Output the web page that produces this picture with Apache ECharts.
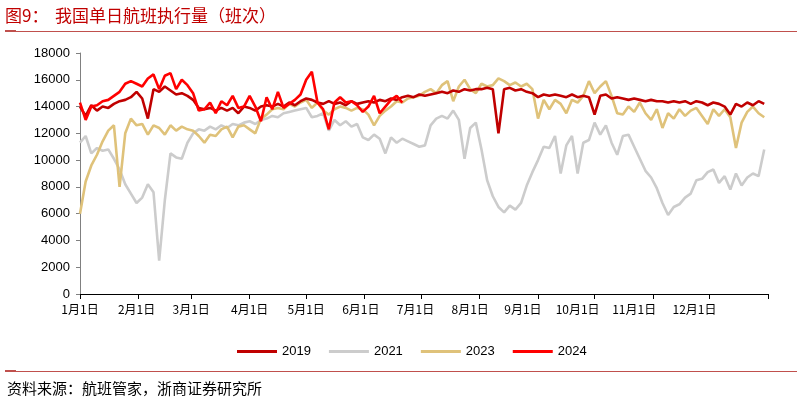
<!DOCTYPE html>
<html><head><meta charset="utf-8">
<script src="https://cdn.jsdelivr.net/npm/echarts@6/dist/echarts.min.js"></script>
<style>html,body{margin:0;padding:0;background:#fff}#c{width:802px;height:403px}</style>
</head><body><div id="c"></div>
<script>
// sampling step (days) of the value arrays below
const step = 3;
const monthStarts = [0, 31, 59, 90, 120, 151, 181, 212, 243, 273, 304, 334];
// label anchor days as placed in the source picture
const labelDays = [0, 30, 59, 90, 120, 149, 178, 207, 235, 264, 294, 326];
const monthLabels = ['1月1日','2月1日','3月1日','4月1日','5月1日','6月1日','7月1日','8月1日','9月1日','10月1日','11月1日','12月1日'];
const seriesNames = ['2019', '2021', '2023', '2024'];

const v2019 = [14000,13300,14100,13700,14000,13900,14200,14400,14500,14700,
15100,14600,13100,15300,15100,15500,15200,14900,15000,14800,
14500,13900,13800,13900,13700,13900,13700,13900,13500,14000,
13900,13700,14000,14100,14000,14200,14000,14300,14100,14400,
14600,14500,14300,14200,14400,14200,14300,14100,14400,14200,
14300,14400,14300,14500,14400,14600,14500,14700,14800,14700,
14900,14800,14900,15000,15100,15000,15200,15100,15300,15200,
15300,15300,15400,15300,12000,15300,15400,15200,15300,15100,
15000,14700,14900,14800,14900,14800,14700,14900,14700,14800,
14700,13400,14800,14900,14600,14700,14600,14500,14600,14500,
14400,14500,14400,14400,14300,14400,14300,14400,14200,14400,
14300,14100,14300,14200,14000,13400,14200,14000,14300,14100,
14400,14200];

const v2021 = [11300,11800,10500,10900,10700,10800,10100,9300,8200,7500,
6800,7200,8200,7600,2500,7000,10500,10200,10100,11300,
12000,12300,12200,12500,12300,12600,12400,12700,12600,12800,
12900,12700,13000,13100,13300,13200,13500,13600,13700,13800,
13900,13200,13300,13500,12200,13000,12600,12900,12500,12700,
11700,11500,11900,11600,10500,11700,11300,11600,11400,11200,
11000,11100,12600,13100,13300,13100,13700,13000,10100,12400,
12800,10800,8500,7300,6500,6100,6600,6300,6800,8100,
9100,10000,11000,10900,11800,9000,11100,11800,9000,11300,
11500,12800,11900,12600,11300,10400,11800,11900,11000,10100,
9200,8700,7900,6800,5900,6500,6700,7200,7500,8500,
8600,9100,9300,8300,8800,7800,9000,8100,8700,9000,
8800,10800];

const v2023 = [6000,8400,9600,10400,11400,12200,12600,8000,12000,13100,
12600,12700,11900,12600,12400,11900,12600,12200,12500,12300,
12200,11800,11300,11900,11800,12300,12500,11700,12500,12600,
12300,12000,13100,13400,13800,13900,13800,14200,14000,14300,
14500,13900,14300,13700,13400,13800,14000,13900,13700,13900,
13800,13400,12600,13300,13700,14000,14400,14300,14600,14700,
14800,15100,15300,15000,15600,15900,14400,15500,16000,15300,
15000,15700,15500,15600,16100,15900,15600,15800,15500,15700,
15300,13100,14500,13800,14500,14200,13500,14500,14300,14800,
15900,15000,15500,15900,14800,13500,13400,14000,13600,14300,
13500,13000,13800,12400,13500,13100,13800,13300,13700,13900,
13300,12700,13800,13300,13800,13200,10900,12800,13600,14000,
13500,13200];

const v2024 = [14300,13000,14000,14100,14400,14500,14800,15100,15700,15900,
15700,15500,16100,16400,15300,16300,16500,15300,16000,15600,
15000,13700,13800,14300,13500,14400,14100,14800,13900,14000,
14800,14000,12900,14700,13800,15100,13900,14200,14500,14900,
16000,16600,14300,13800,12300,14300,14700,14300,14400,14100,
13600,14000,14800,13500,14000,14500,14800,14300];

const colors = {'2019':'#c00000','2021':'#cccccc','2023':'#dfc27a','2024':'#ff0000'};
const values = {'2019':v2019,'2021':v2021,'2023':v2023,'2024':v2024};
function toPairs(arr){ return arr.map((v,i)=>[i*step, v]); }

const drawOrder = ['2021','2023','2019','2024'];
const series = drawOrder.map((n, k) => ({
  name: n, type: 'line', data: toPairs(values[n]), showSymbol: false, symbol: 'none',
  lineStyle: {color: colors[n], width: 2.6}, itemStyle: {color: colors[n]}, z: 2 + k
}));

const chart = echarts.init(document.getElementById('c'), null, {renderer: 'canvas'});
chart.setOption({
  animation: false,
  textStyle: {fontFamily: 'Liberation Sans, Arial, sans-serif'},
  grid: {left: 80, right: 34, top: 53, bottom: 109},
  xAxis: {
    type: 'value', min: 0, max: 365,
    splitLine: {show: false},
    axisLine: {lineStyle: {color: '#000', width: 1}},
    axisTick: {show: true, customValues: monthStarts.concat([365]), length: 5, inside: false, lineStyle: {color: '#000'}},
    axisLabel: {customValues: labelDays, formatter: v => monthLabels[labelDays.indexOf(v)], color: '#000', fontSize: 12, margin: 9, fontFamily: 'Noto Sans CJK SC'}
  },
  yAxis: {
    type: 'value', min: 0, max: 18000, interval: 2000,
    splitLine: {show: false},
    axisLine: {show: true, lineStyle: {color: '#808080', width: 1}},
    axisTick: {show: true, length: 4, lineStyle: {color: '#808080'}},
    axisLabel: {color: '#000', fontSize: 13, margin: 10, formatter: v => String(v)}
  },
  legend: {
    data: seriesNames, top: 340, left: 232, icon: 'rect', itemWidth: 40, itemHeight: 3, itemGap: 18,
    textStyle: {color: '#000', fontSize: 13, fontFamily: 'Liberation Sans, Arial, sans-serif'}
  },
  graphic: [
    {type: 'text', left: 5, top: 7, style: {text: '图9：', fill: '#c00000', fontSize: 17, fontFamily: 'Noto Sans CJK SC'}},
    {type: 'text', left: 55, top: 7, style: {text: '我国单日航班执行量（班次）', fill: '#c00000', fontSize: 17, fontFamily: 'Noto Sans CJK SC'}},
    {type: 'rect', shape: {x: 5, y: 31, width: 792, height: 1}, style: {fill: '#c0504d'}},
    {type: 'rect', shape: {x: 5, y: 30, width: 11, height: 2}, style: {fill: '#c0504d'}},
    {type: 'rect', shape: {x: 5, y: 371, width: 792, height: 1}, style: {fill: '#c0504d'}},
    {type: 'rect', shape: {x: 5, y: 370, width: 11, height: 2}, style: {fill: '#c0504d'}},
    {type: 'text', left: 7, top: 381, style: {text: '资料来源：航班管家，浙商证券研究所', fill: '#000', fontSize: 15, fontFamily: 'Noto Sans CJK SC'}}
  ],
  series: series
});
</script>
</body></html>
